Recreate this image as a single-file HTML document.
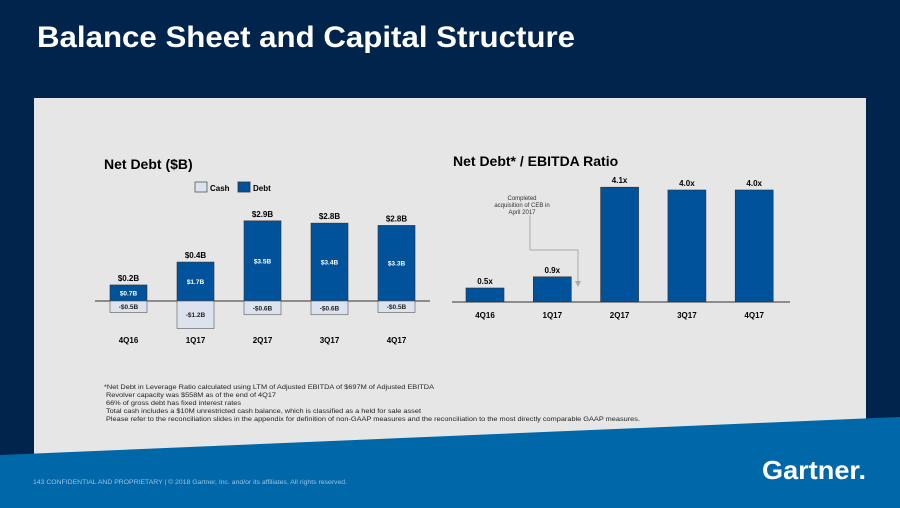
<!DOCTYPE html>
<html><head><meta charset="utf-8"><style>
body{margin:0;width:900px;height:508px;overflow:hidden;background:#00244c;font-family:"Liberation Sans",Arial,sans-serif}
svg{display:block}
svg text{font-family:"Liberation Sans",Arial,sans-serif}
</style></head><body>
<svg width="900" height="508">
<rect x="0" y="0" width="900" height="508" fill="#00244c"/>
<text x="37" y="47" fill="#fff" font-size="30" font-weight="bold" textLength="538" lengthAdjust="spacingAndGlyphs">Balance Sheet and Capital Structure</text>
<rect x="34" y="98" width="832" height="370" fill="#e6e6e6"/>
<polygon points="0,455 900,417 900,508 0,508" fill="#0067a8"/>
<text x="104" y="169" font-size="14" font-weight="bold" fill="#000">Net Debt ($B)</text>
<rect x="195" y="182" width="12" height="10" fill="#dde3ee" stroke="#555" stroke-width="0.8"/>
<text x="210" y="191" font-size="8" font-weight="bold">Cash</text>
<rect x="238" y="182" width="12" height="10" fill="#00529b" stroke="#333" stroke-width="0.8"/>
<text x="253" y="191" font-size="8" font-weight="bold">Debt</text>
<g id="left"></g>
<text x="453" y="166" font-size="14" font-weight="bold" fill="#000">Net Debt* / EBITDA Ratio</text>
<g id="right"></g>
<text x="517" y="200" font-size="6" fill="#333" text-anchor="middle"><tspan x="522" dy="0">Completed</tspan><tspan x="522" dy="7">acquisition of CEB in</tspan><tspan x="522" dy="7">April 2017</tspan></text>
<polyline points="530,215 530,250 578,250 578,282" fill="none" stroke="#aaa" stroke-width="1"/>
<polygon points="575,281 581,281 578,287" fill="#aaa"/>
<g font-size="6.5" fill="#222">
<text x="104" y="389" textLength="330" lengthAdjust="spacingAndGlyphs">*Net Debt in Leverage Ratio calculated using LTM of Adjusted EBITDA of $697M of Adjusted EBITDA</text>
<text x="106" y="397" textLength="170" lengthAdjust="spacingAndGlyphs">Revolver capacity was $558M as of the end of 4Q17</text>
<text x="106" y="405" textLength="135" lengthAdjust="spacingAndGlyphs">66% of gross debt has fixed interest rates</text>
<text x="106" y="413" textLength="315" lengthAdjust="spacingAndGlyphs">Total cash includes a $10M unrestricted cash balance, which is classified as a held for sale asset</text>
<text x="106" y="421" textLength="534" lengthAdjust="spacingAndGlyphs">Please refer to the reconciliation slides in the appendix for definition of non-GAAP measures and the reconciliation to the most directly comparable GAAP measures.</text>
</g>
<text x="33" y="484" font-size="6" fill="#9cc3e0" textLength="314" lengthAdjust="spacingAndGlyphs">143   CONFIDENTIAL AND PROPRIETARY   |   © 2018 Gartner, Inc. and/or its affiliates. All rights reserved.</text>
<text x="762" y="479" font-size="26" font-weight="bold" fill="#fff" textLength="104" lengthAdjust="spacingAndGlyphs">Gartner.</text>
</svg>
<script>
const quarters=["4Q16","1Q17","2Q17","3Q17","4Q17"];
const debt=[0.7,1.7,3.5,3.4,3.3];
const cash=[-0.5,-1.2,-0.6,-0.6,-0.5];
const netDebt=["$0.2B","$0.4B","$2.9B","$2.8B","$2.8B"];
const ratio=[0.5,0.9,4.1,4.0,4.0];
const NS="http://www.w3.org/2000/svg";
function mk(p,tag,a,txt){const e=document.createElementNS(NS,tag);for(const k in a)e.setAttribute(k,a[k]);if(txt!==undefined)e.textContent=txt;p.appendChild(e);return e;}
const L=document.getElementById('left');
const lx=i=>110+i*67, lBase=301, ly=v=>lBase-v*22.9, bw=37;
mk(L,'line',{x1:95,x2:430,y1:lBase,y2:lBase,stroke:'#333','stroke-width':1});
quarters.forEach((q,i)=>{
 const x=lx(i);
 const d=mk(L,'rect',{x:x,y:ly(debt[i]),width:bw,height:lBase-ly(debt[i]),fill:'#00529b',stroke:'#333','stroke-width':0.6});
 
 
 const c=mk(L,'rect',{x:x,y:lBase,width:bw,height:ly(cash[i])-lBase,fill:'#dde3ee',stroke:'#555','stroke-width':0.6});
 
 
 mk(L,'text',{x:x+bw/2,y:(ly(debt[i])+lBase)/2+2.5,'font-size':6.5,'font-weight':'bold',fill:'#fff','text-anchor':'middle'},'$'+debt[i].toFixed(1)+'B');
 mk(L,'text',{x:x+bw/2,y:(ly(cash[i])+lBase)/2+2.5,'font-size':6.5,'font-weight':'bold',fill:'#222','text-anchor':'middle'},'-$'+Math.abs(cash[i]).toFixed(1)+'B');
 mk(L,'text',{x:x+bw/2,y:ly(debt[i])-4,'font-size':8,'font-weight':'bold','text-anchor':'middle'},netDebt[i]);
 mk(L,'text',{x:x+bw/2,y:343,'font-size':8,'font-weight':'bold','text-anchor':'middle'},q);
});
const R=document.getElementById('right');
const rx=i=>466+i*67.3, rBase=302, ry=v=>rBase-v*28;
mk(R,'line',{x1:452,x2:790,y1:rBase,y2:rBase,stroke:'#333','stroke-width':1});
quarters.forEach((q,i)=>{
 const x=rx(i);
 const b=mk(R,'rect',{x:x,y:ry(ratio[i]),width:38,height:rBase-ry(ratio[i]),fill:'#00529b',stroke:'#333','stroke-width':0.6});
 
 
 mk(R,'text',{x:x+19,y:ry(ratio[i])-4,'font-size':8,'font-weight':'bold','text-anchor':'middle'},ratio[i].toFixed(1)+'x');
 mk(R,'text',{x:x+19,y:318,'font-size':8,'font-weight':'bold','text-anchor':'middle'},q);
});
</script>
</body></html>
